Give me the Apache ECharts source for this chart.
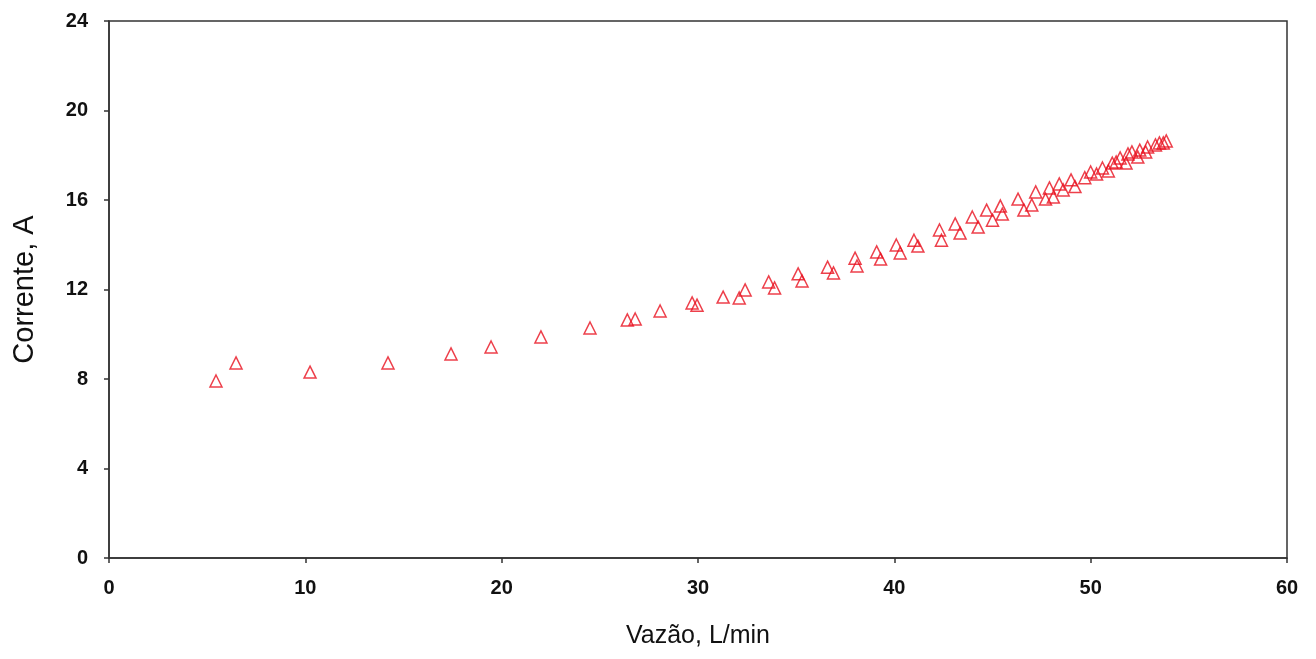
<!DOCTYPE html>
<html>
<head>
<meta charset="utf-8">
<script src="https://cdn.jsdelivr.net/npm/echarts@6/dist/echarts.min.js"></script>
<style>
  html, body { margin: 0; padding: 0; background: #fff; }
  #chart { width: 1316px; height: 659px; }
</style>
</head>
<body>
<div id="chart"></div>
<script>
// Vazão (L/min) vs Corrente (A)
const vazao = [
  5.45, 6.47, 10.24, 14.21, 17.42, 19.46, 22.0, 24.5, 26.4, 26.8,
  28.07, 29.7, 29.95, 31.28, 32.1, 32.4, 33.6, 33.9, 35.1, 35.3,
  36.6, 36.9, 38.0, 38.1, 39.1, 39.3, 40.1, 40.3, 41.0, 41.2,
  42.3, 42.4, 43.1, 43.35, 43.97, 44.27, 44.7, 45.0, 45.4, 45.5,
  46.3, 46.6, 47.0, 47.2, 47.7, 47.9, 48.1, 48.4, 48.6, 49.0,
  49.2, 49.7, 50.0, 50.3, 50.6, 50.9, 51.1, 51.3, 51.5, 51.8,
  51.9, 52.1, 52.4, 52.5, 52.8, 52.9, 53.3, 53.5, 53.7, 53.85
]
const corrente = [
  7.91, 8.72, 8.31, 8.72, 9.12, 9.43, 9.88, 10.28, 10.64, 10.68,
  11.04, 11.4, 11.3, 11.66, 11.62, 11.98, 12.34, 12.07, 12.7, 12.38,
  13.0, 12.74, 13.4, 13.05, 13.68, 13.36, 13.99, 13.63, 14.2, 13.94,
  14.66, 14.2, 14.93, 14.52, 15.24, 14.79, 15.55, 15.1, 15.73, 15.37,
  16.04, 15.55, 15.78, 16.36, 16.04, 16.54, 16.13, 16.72, 16.45, 16.9,
  16.6, 17.0, 17.25, 17.16, 17.43, 17.3, 17.65, 17.7, 17.88, 17.65,
  18.06, 18.15, 17.92, 18.23, 18.15, 18.37, 18.46, 18.55, 18.55, 18.64
]

const xTitle = 'Vazão, L/min'
const yTitle = 'Corrente, A'

const mychart = echarts.init(document.getElementById('chart'))

const tickLabel = {
  color: '#111',
  fontSize: 20,
  fontWeight: 'bold',
  fontFamily: 'Liberation Sans',
}

mychart.setOption({
  animation: false,
  grid: {
    left: 109,
    right: 29,
    top: 21,
    bottom: 101,
    show: true,
    borderColor: '#333',
    borderWidth: 1.5,
  },
  xAxis: {
    type: 'value',
    min: 0,
    max: 60,
    interval: 10,
    name: xTitle,
    nameLocation: 'middle',
    nameGap: 66,
    nameTextStyle: { color: '#111', fontSize: 25, fontFamily: 'Liberation Sans' },
    axisLine: { show: true, lineStyle: { color: '#333', width: 1.5 } },
    axisTick: { show: true, inside: false, length: 5, lineStyle: { color: '#333', width: 1.5 } },
    axisLabel: { ...tickLabel, margin: 20 },
    splitLine: { show: false },
  },
  yAxis: {
    type: 'value',
    min: 0,
    max: 24,
    interval: 4,
    name: yTitle,
    nameLocation: 'middle',
    nameGap: 70,
    nameTextStyle: { color: '#111', fontSize: 29, fontFamily: 'Liberation Sans' },
    axisLine: { show: true, lineStyle: { color: '#333', width: 1.5 } },
    axisTick: { show: true, inside: false, length: 5, lineStyle: { color: '#333', width: 1.5 } },
    axisLabel: { ...tickLabel, margin: 21 },
    splitLine: { show: false },
  },
  series: [
    {
      type: 'scatter',
      symbol: 'triangle',
      symbolSize: 12,
      itemStyle: {
        color: 'rgba(255,255,255,0)',
        borderColor: '#e8101e',
        borderWidth: 1.5,
      },
      data: vazao.map((v, i) => [v, corrente[i]]),
    },
  ],
})
</script>
</body>
</html>
